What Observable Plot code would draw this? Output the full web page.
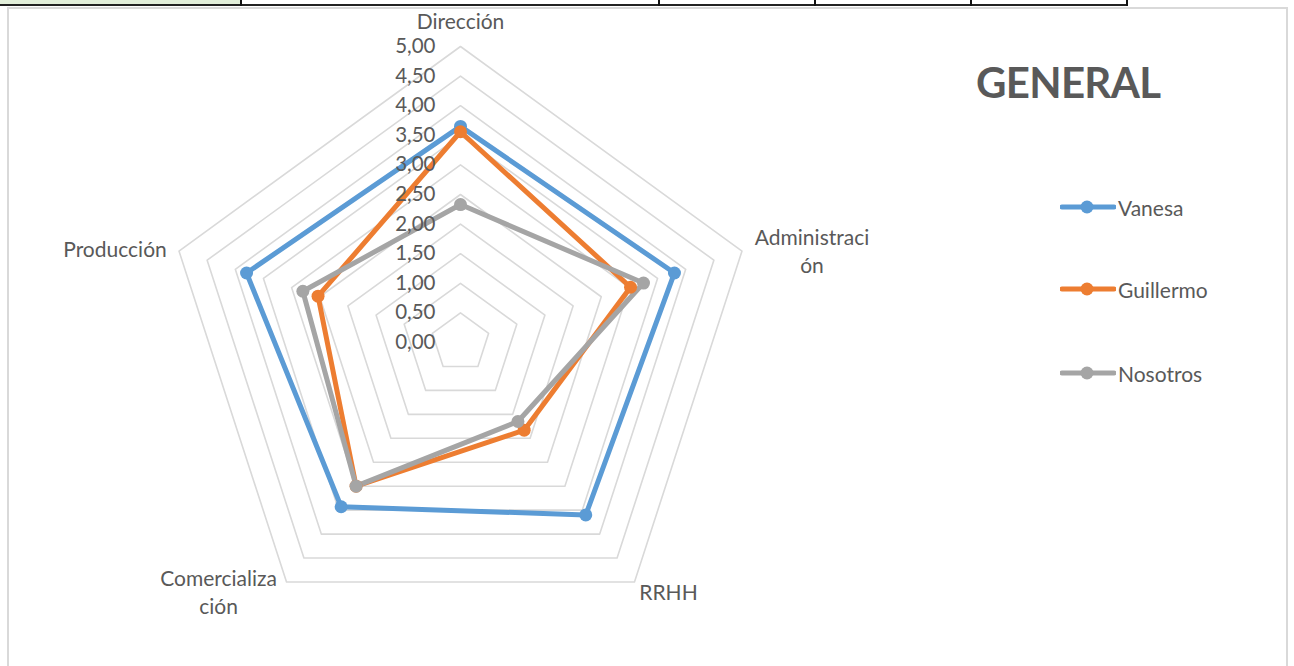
<!DOCTYPE html>
<html>
<head>
<meta charset="utf-8">
<script src="https://cdn.jsdelivr.net/npm/d3@7"></script>
<script src="https://cdn.jsdelivr.net/npm/@observablehq/plot@0.6"></script>
<style>
  html, body { margin: 0; padding: 0; background: #fff; }
  body { width: 1294px; height: 666px; position: relative; overflow: hidden; font-family: Lato, "Open Sans", sans-serif; }
  #chart { position: absolute; left: 0; top: 0; }
  .frame { position: absolute; left: 7px; top: 7px; width: 1281px; height: 670px; border: 2px solid #d9d9d9; box-sizing: border-box; }
  .cell { position: absolute; top: 0; height: 4px; border-bottom: 2px solid #222; box-sizing: content-box; }
  .vline { position: absolute; top: 0; width: 2px; height: 6px; background: #111; }
  #title { position: absolute; left: 976px; top: 57px; font: bold 42px Lato, sans-serif; color: #595959; letter-spacing: -0.7px; }
  .leg { position: absolute; left: 1060px; height: 20px; display: flex; align-items: center; font: 21px Lato, sans-serif; color: #595959; }
  .leg svg { margin-right: 2px; }
</style>
</head>
<body>
<div class="cell" style="left:0;width:241px;background:#e2efda;"></div>
<div class="cell" style="left:241px;width:887px;"></div>
<div class="vline" style="left:240px"></div>
<div class="vline" style="left:658px"></div>
<div class="vline" style="left:814px"></div>
<div class="vline" style="left:970px"></div>
<div class="vline" style="left:1126px"></div>
<div class="frame"></div>
<div id="chart"></div>
<div id="title">GENERAL</div>
<div id="legend"></div>
<script>
// ---- data ----
const categories = ["Dirección", "Administración", "RRHH", "Comercialización", "Producción"];
const categoryLabels = ["Dirección", "Administraci\nón", "RRHH", "Comercializa\nción", "Producción"];
const seriesNames = ["Vanesa", "Guillermo", "Nosotros"];
const vanesa    = [3.65, 3.80, 3.60, 3.43, 3.80];
const guillermo = [3.56, 3.02, 1.83, 3.00, 2.53];
const nosotros  = [2.33, 3.25, 1.65, 3.00, 2.80];
const tickValues = [0, 0.5, 1, 1.5, 2, 2.5, 3, 3.5, 4, 4.5, 5];
const tickLabels = ["0,00", "0,50", "1,00", "1,50", "2,00", "2,50", "3,00", "3,50", "4,00", "4,50", "5,00"];
const colors = ["#5b9bd5", "#ed7d31", "#a5a5a5"];

// ---- layout ----
const cx = 460, cy = 342, R = 296, maxV = 5;
const labelOffsets = [[0, -27], [70, -1], [34, 9], [-68, 9], [-64, -3]];

const n = categories.length;
const angle = i => (2 * Math.PI * i) / n;
const seriesValues = [vanesa, guillermo, nosotros];

const rows = [];
seriesNames.forEach((s, si) => {
  categories.forEach((c, ci) => {
    rows.push({series: s, category: c, value: seriesValues[si][ci], a: angle(ci)});
  });
});

const grid = [];
tickValues.filter(v => v > 0).forEach(v => {
  categories.forEach((c, ci) => grid.push({level: v, a: angle(ci)}));
});

const ticks = tickValues.map((v, i) => ({v, label: tickLabels[i]}));
const cats = categories.map((c, i) => ({c, label: categoryLabels[i], a: angle(i), dx: labelOffsets[i][0], dy: labelOffsets[i][1]}));

const px = (r, a) => r * Math.sin(a);
const py = (r, a) => r * Math.cos(a);

const marks = [
  Plot.line(grid, {x: d => px(d.level, d.a), y: d => py(d.level, d.a), z: "level", curve: "linear-closed", stroke: "#d9d9d9", strokeWidth: 1.6}),
  Plot.line(rows, {x: d => px(d.value, d.a), y: d => py(d.value, d.a), z: "series", stroke: "series", curve: "linear-closed", strokeWidth: 5, strokeLinejoin: "round"}),
  Plot.dot(rows, {x: d => px(d.value, d.a), y: d => py(d.value, d.a), fill: "series", r: 6.5}),
  Plot.text(ticks, {x: 0, y: "v", text: "label", textAnchor: "end", dx: -25, fontSize: 20.5, fill: "#595959", fontFamily: "Lato, sans-serif"})
];
cats.forEach(d => {
  marks.push(Plot.text([d], {x: e => px(maxV, e.a), y: e => py(maxV, e.a), text: "label", dx: d.dx, dy: d.dy, fontSize: 21, fill: "#595959", lineHeight: 1.35, fontFamily: "Lato, sans-serif"}));
});

const chart = Plot.plot({
  width: 1294,
  height: 666,
  margin: 0,
  style: {background: "transparent", overflow: "visible"},
  x: {type: "linear", domain: [-maxV, maxV], range: [cx - R, cx + R], axis: null},
  y: {type: "linear", domain: [-maxV, maxV], range: [cy + R, cy - R], axis: null},
  color: {domain: seriesNames, range: colors},
  marks
});
document.getElementById("chart").appendChild(chart);

// legend
const legendTops = [197, 279, 363];
const legend = document.getElementById("legend");
seriesNames.forEach((s, i) => {
  const div = document.createElement("div");
  div.className = "leg";
  div.style.top = legendTops[i] + "px";
  div.innerHTML = `<svg width="56" height="16"><line x1="2" x2="54" y1="8" y2="8" stroke="${colors[i]}" stroke-width="5" stroke-linecap="round"/><circle cx="27" cy="8" r="6.5" fill="${colors[i]}"/></svg><span>${s}</span>`;
  legend.appendChild(div);
});
</script>
</body>
</html>
